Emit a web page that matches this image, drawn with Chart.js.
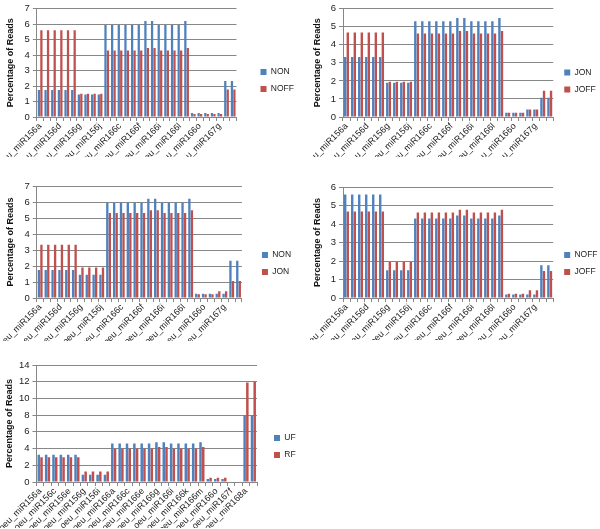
<!DOCTYPE html>
<html>
<head>
<meta charset="utf-8">
<script src="https://cdn.jsdelivr.net/npm/chart.js@4.4.1/dist/chart.umd.min.js"></script>
<style>
html,body{margin:0;padding:0;background:#fff;}
#wrap{position:relative;width:600px;height:529px;overflow:hidden;}
canvas{position:absolute;}
</style>
</head>
<body>
<div id="wrap">
<canvas id="p1" width="307" height="175" style="left:0;top:0"></canvas>
<canvas id="p2" width="305" height="175" style="left:300px;top:0"></canvas>
<canvas id="p3" width="307" height="175" style="left:0;top:175px"></canvas>
<canvas id="p4" width="305" height="175" style="left:300px;top:175px"></canvas>
<canvas id="p5" width="309" height="179" style="left:0;top:350px"></canvas>
</div>
<script>
// miRNA families on the x axis (same 30 for every panel)
var miRNAs = ['oeu_miR156a','oeu_miR156b','oeu_miR156c','oeu_miR156d','oeu_miR156e','oeu_miR156f','oeu_miR156g','oeu_miR156h','oeu_miR156i','oeu_miR156j',
	'oeu_miR166a','oeu_miR166b','oeu_miR166c','oeu_miR166d','oeu_miR166e','oeu_miR166f','oeu_miR166g','oeu_miR166h','oeu_miR166i','oeu_miR166j',
	'oeu_miR166k','oeu_miR166l','oeu_miR166m','oeu_miR166n','oeu_miR166o','oeu_miR166p','oeu_miR167f','oeu_miR167g','oeu_miR168a','oeu_miR168b'];

// Percentage of reads per library
var NON  = [1.75,1.75,1.75,1.75,1.75,1.75, 1.45,1.45,1.45,1.45, 5.95,5.95,5.95,5.95,5.95,5.95, 6.2,6.2, 5.95,5.95,5.95,5.95, 6.2, 0.26,0.26,0.26,0.26,0.26, 2.33,2.33];
var NOFF = [5.6,5.6,5.6,5.6,5.6,5.6, 1.5,1.5,1.5,1.5, 4.3,4.3,4.3,4.3,4.3,4.3, 4.46,4.46, 4.3,4.3,4.3,4.3, 4.46, 0.19,0.19,0.19,0.19,0.19, 1.77,1.77];
var JON  = [3.33,3.33,3.33,3.33,3.33,3.33, 1.9,1.9,1.9,1.9, 5.31,5.31,5.31,5.31,5.31,5.31, 5.48,5.48, 5.31,5.31,5.31,5.31, 5.48, 0.23,0.23,0.23, 0.42,0.42, 1.06,1.06];
var JOFF = [4.68,4.68,4.68,4.68,4.68,4.68, 1.95,1.95,1.95,1.95, 4.62,4.62,4.62,4.62,4.62,4.62, 4.77,4.77, 4.62,4.62,4.62,4.62, 4.77, 0.23,0.23,0.23, 0.42,0.42, 1.46,1.46];
var UF   = [3.25,3.25,3.25,3.25,3.25,3.25, 0.88,0.88,0.88,0.88, 4.6,4.6,4.6,4.6,4.6,4.6, 4.75,4.75, 4.6,4.6,4.6,4.6, 4.75, 0.35,0.35,0.35, null,null, 8.0,8.0];
var RF   = [2.95,2.95,2.95,2.95,2.95,2.95, 1.26,1.26,1.26,1.26, 3.97,3.97,3.97,3.97,3.97,3.97, 4.18,4.18, 3.97,3.97,3.97,3.97, 4.18, 0.5,0.5,0.5, null,null, 11.9,12.0];

var BLUE = '#4F81BD', RED = '#C0504D', GRID = '#878787', TXT = '#222';
var FONT = 'Liberation Sans';

function panel(id, names, a, b, o){
	new Chart(document.getElementById(id), {
		type: 'bar',
		data: {
			labels: miRNAs,
			datasets: [
				{label: names[0], data: a, backgroundColor: BLUE},
				{label: names[1], data: b, backgroundColor: RED}
			]
		},
		options: {
			responsive: false,
			animation: false,
			layout: {padding: {left: o.padL, top: o.padT, bottom: o.padB, right: o.padR}},
			datasets: {bar: {categoryPercentage: 0.74, barPercentage: 0.92}},
			plugins: {
				tooltip: {enabled: false},
				legend: {
					position: 'right',
					labels: {boxWidth: 6, boxHeight: 6, padding: 8.5, color: TXT, font: {family: FONT, size: 8.5}}
				}
			},
			scales: {
				x: {
					grid: {drawOnChartArea: false, tickLength: 4, color: GRID},
					border: {color: GRID},
					ticks: {
						autoSkip: false, minRotation: 45, maxRotation: 45, padding: 0,
						color: TXT, font: {family: FONT, size: 9},
						callback: function(v, i){ return i % o.every === 0 ? this.getLabelForValue(v) : ''; }
					},
					afterFit: function(s){ s.height = o.xh; }
				},
				y: {
					min: 0, max: o.max,
					ticks: {stepSize: o.step, autoSkip: false, color: TXT, padding: 3, font: {family: FONT, size: 9.5}},
					grid: {color: GRID, tickLength: 4},
					border: {color: GRID},
					title: {display: true, text: 'Percentage of Reads', color: '#111', padding: {top: 0, bottom: 0}, font: {family: FONT, size: 9, weight: 'bold'}},
					afterFit: function(s){ s.width = o.yw; }
				},
				// empty spacer between the plot and the legend
				gap: {
					type: 'linear', position: 'right', display: true,
					grid: {display: false}, ticks: {display: false}, border: {display: false},
					afterFit: function(s){ s.width = o.gap; }
				}
			}
		}
	});
}

panel('p1', ['NON','NOFF'], NON, NOFF, {padL:0, padT:4, padB:18, padR:4.6, xh:40, yw:32, gap:15.5, max:7, step:1, every:3});
panel('p2', ['JON','JOFF'], JON, JOFF, {padL:12, padT:5, padB:18, padR:0.5, xh:40, yw:31, gap:2.5, max:6, step:1, every:3});
panel('p3', ['NON','JON'], NON, JON, {padL:0, padT:11, padB:9, padR:5.9, xh:43, yw:32, gap:11.5, max:7, step:1, every:3});
panel('p4', ['NOFF','JOFF'], NOFF, JOFF, {padL:12, padT:12, padB:10, padR:0.6, xh:42, yw:31, gap:2.5, max:6, step:1, every:3});
panel('p5', ['UF','RF'], UF, RF, {padL:0, padT:15, padB:1, padR:3.4, xh:46, yw:32, gap:8.5, max:14, step:2, every:2});
</script>
</body>
</html>
